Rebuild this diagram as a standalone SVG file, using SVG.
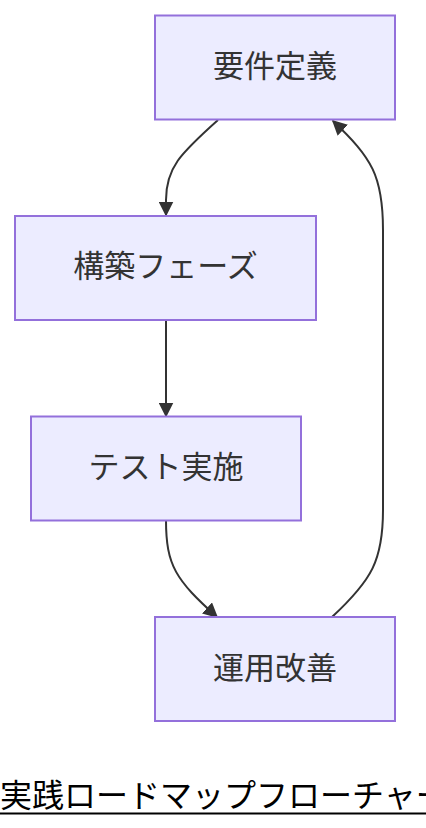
<svg xmlns="http://www.w3.org/2000/svg" width="426" height="828" viewBox="0 0 426 828">
<style>
.node rect{fill:#ECECFF;stroke:#9370DB;stroke-width:2}
.node text{font-family:"Noto Sans CJK JP","Noto Sans",sans-serif;font-size:31px;fill:#333;text-anchor:middle}
.edge{fill:none;stroke:#333;stroke-width:2}
.title{font-family:"Noto Sans CJK JP","Noto Sans",sans-serif;font-size:32px;fill:#000}
</style>
<defs>
<marker id="arrow" viewBox="0 0 10 10" refX="9" refY="5" markerWidth="7.5" markerHeight="7.5" markerUnits="strokeWidth" orient="auto">
<path d="M0,0 L10,5 L0,10 z" fill="#333"/>
</marker>
</defs>
<rect width="426" height="828" fill="#fff"/>
<g id="edges">
<path class="edge" d="M218,120 C180,154 166,168 166,200 L166,215" marker-end="url(#arrow)"/>
<path class="edge" d="M166,320 L166,416" marker-end="url(#arrow)"/>
<path class="edge" d="M166,520 C166,566 176,580 217,617" marker-end="url(#arrow)"/>
<path class="edge" d="M332,617 C372,580 383,560 383,510 L383,230 C383,176 372,158 333,121" marker-end="url(#arrow)"/>
</g>
<g id="n1" class="node"><rect x="155" y="15.5" width="240" height="104"/><text x="275" y="76.5">要件定義</text></g>
<g id="n2" class="node"><rect x="15" y="216" width="301" height="104"/><text x="165.5" y="276.5">構築フェーズ</text></g>
<g id="n3" class="node"><rect x="31" y="416.5" width="270" height="104"/><text x="166" y="477.5">テスト実施</text></g>
<g id="n4" class="node"><rect x="155" y="617" width="240" height="104"/><text x="275" y="678.5">運用改善</text></g>
<g id="title">
<text class="title" x="0" y="807">実践ロードマップフローチャート</text>
<line x1="0" y1="813.5" x2="426" y2="813.5" stroke="#000" stroke-width="2"/>
</g>
</svg>
